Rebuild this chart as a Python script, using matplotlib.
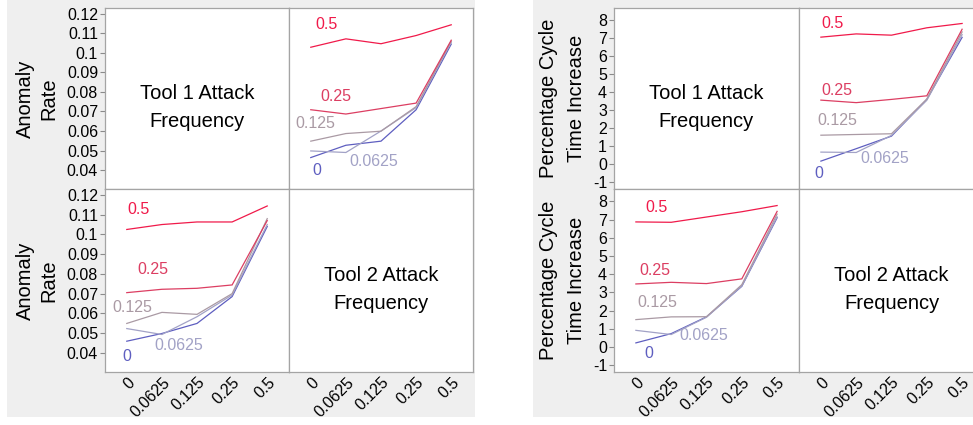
import matplotlib
matplotlib.use("Agg")
import matplotlib.pyplot as plt
from matplotlib.patches import Rectangle
from matplotlib.ticker import FuncFormatter

plt.rcParams['font.family'] = ['Liberation Sans', 'DejaVu Sans']

W, H = 973, 425

levels = ['0', '0.0625', '0.125', '0.25', '0.5']
level_colors = ['#5e5ec0', '#a2a2c6', '#aa9aa4', '#dc3e62', '#f01a4a']

# Anomaly Rate against Tool 2 frequency, one row per Tool 1 level
anomaly_by_tool1 = [
    [0.0464, 0.0527, 0.0548, 0.0709, 0.1045],
    [0.0498, 0.0490, 0.0600, 0.0720, 0.1055],
    [0.0548, 0.0587, 0.0599, 0.0725, 0.1060],
    [0.0709, 0.0687, 0.0715, 0.0743, 0.1065],
    [0.1029, 0.1072, 0.1047, 0.1089, 0.1144],
]
# Anomaly Rate against Tool 1 frequency, one row per Tool 2 level
anomaly_by_tool2 = [
    [0.0459, 0.0498, 0.0549, 0.0685, 0.1040],
    [0.0523, 0.0493, 0.0583, 0.0693, 0.1050],
    [0.0549, 0.0605, 0.0595, 0.0700, 0.1080],
    [0.0705, 0.0722, 0.0727, 0.0744, 0.1070],
    [0.1025, 0.1050, 0.1063, 0.1063, 0.1144],
]
# Percentage cycle time increase against Tool 2 frequency, per Tool 1 level
cycle_by_tool1 = [
    [0.17, 0.86, 1.56, 3.60, 7.05],
    [0.67, 0.65, 1.60, 3.55, 7.20],
    [1.61, 1.65, 1.69, 3.62, 7.35],
    [3.56, 3.42, 3.60, 3.80, 7.50],
    [7.06, 7.24, 7.17, 7.58, 7.82],
]
# Percentage cycle time increase against Tool 1 frequency, per Tool 2 level
cycle_by_tool2 = [
    [0.22, 0.73, 1.65, 3.33, 7.10],
    [0.91, 0.68, 1.63, 3.35, 7.15],
    [1.50, 1.65, 1.66, 3.42, 7.30],
    [3.46, 3.55, 3.48, 3.74, 7.45],
    [6.87, 6.85, 7.14, 7.43, 7.77],
]

anomaly_ticks = [0.04, 0.05, 0.06, 0.07, 0.08, 0.09, 0.1, 0.11, 0.12]
cycle_ticks = [-1, 0, 1, 2, 3, 4, 5, 6, 7, 8]

# level label offsets (pixels) from each line's first point
offs_anom_t1 = [(6, -13), (63, -11), (5, 18), (25, 13), (16, 23)]
offs_anom_t2 = [(0, -15), (52, -17), (6, 16), (26, 23), (12, 20)]
offs_cyc_t1 = [(-2, -12), (64, -6), (16, 15), (16, 10), (12, 14)]
offs_cyc_t2 = [(13, -11), (68, -5), (21, 17), (19, 13), (21, 14)]

fig = plt.figure(figsize=(W / 100, H / 100), dpi=100)
fig.patch.set_facecolor('white')

for x0, x1 in [(7, 475), (533, 973)]:
    fig.patches.append(Rectangle((x0 / W, 1 - 417 / H), (x1 - x0) / W, 417 / H,
                                 transform=fig.transFigure, facecolor='#efefef',
                                 edgecolor='none', zorder=-5))


def px_rect(left, top, right, bottom):
    return [left / W, 1 - bottom / H, (right - left) / W, (bottom - top) / H]


def draw_lines(ax, table, offsets):
    xs = range(len(levels))
    for lvl, vals, color, (dx, dy) in zip(levels, table, level_colors, offsets):
        ax.plot(xs, vals, color=color, lw=0.9, solid_joinstyle='miter')
        ax.annotate(lvl, (0, vals[0]), xytext=(dx, dy), textcoords='offset pixels',
                    ha='center', va='center', color=color, fontsize=11.5)


def draw_block(cols, ylim, yticks, ytitle, title_x, title_spacing,
               t1_table, t2_table, offs1, offs2):
    rows = [(8, 189), (189, 372)]
    for r, (top, bottom) in enumerate(rows):
        for c, (left, right) in enumerate(cols):
            ax = fig.add_axes(px_rect(left, top, right, bottom))
            ax.set_xlim(-0.62, 4.62)
            ax.set_ylim(*ylim)
            for sp in ax.spines.values():
                sp.set_color('#a4a4a4')
                sp.set_linewidth(0.9)
            ax.set_xticks(range(len(levels)))
            ax.set_yticks(yticks)
            ax.yaxis.set_major_formatter(FuncFormatter(lambda v, p: '{:g}'.format(v)))
            ax.tick_params(axis='y', direction='out', length=3.5, width=0.8,
                           color='#8a8a8a', pad=1.5, labelsize=11.5, left=(c == 0),
                           labelleft=(c == 0))
            ax.tick_params(axis='x', length=0, pad=2, labelsize=11.5,
                           labelbottom=(r == 1))
            if r == 1:
                ax.set_xticklabels(levels)
                for lab in ax.get_xticklabels():
                    lab.set(rotation=45, ha='right', va='top', rotation_mode='anchor')
            if r == c:
                ax.text(0.5, 0.45, 'Tool %d Attack\nFrequency' % (r + 1),
                        transform=ax.transAxes, ha='center', va='center',
                        fontsize=14.5, linespacing=1.6)
            elif r == 0:
                draw_lines(ax, t1_table, offs1)
            else:
                draw_lines(ax, t2_table, offs2)
        fig.text(title_x / W, 1 - (top + bottom) / 2 / H, ytitle, rotation=90,
                 ha='center', va='center', fontsize=14.5, linespacing=title_spacing)


draw_block([(105, 289), (289, 473)], (0.0303, 0.1230), anomaly_ticks,
           'Anomaly\nRate', 37, 1.3, anomaly_by_tool1, anomaly_by_tool2,
           offs_anom_t1, offs_anom_t2)
draw_block([(614, 799), (799, 984)], (-1.38, 8.68), cycle_ticks,
           'Percentage Cycle\nTime Increase', 563, 1.6, cycle_by_tool1, cycle_by_tool2,
           offs_cyc_t1, offs_cyc_t2)

fig.savefig('out.png', dpi=100)
